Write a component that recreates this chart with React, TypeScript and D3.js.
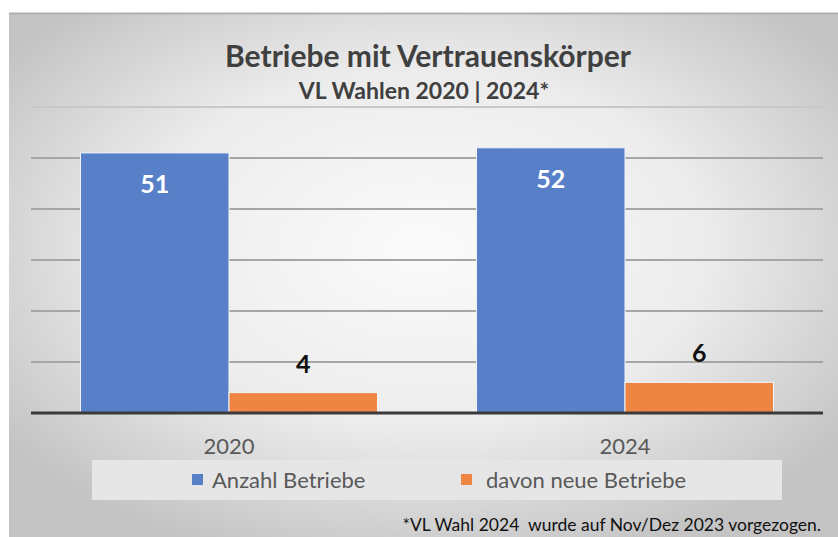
import React, { useEffect, useRef } from 'react';
import * as d3 from 'd3';

const YEARS = ["2020", "2024"];
const SERIES = ["Anzahl Betriebe", "davon neue Betriebe"];
const ANZAHL = [51, 52];
const NEUE = [4, 6];
const COLORS = ["#5880c8", "#ee8543"];
const Y_TICKS = [0, 10, 20, 30, 40, 50, 60];

const FONT = "Lato, 'Open Sans', sans-serif";

function App() {
    const svgRef = useRef<SVGSVGElement>(null);
    const W = 838;
    const H = 537;
    const plot = { left: 31, right: 823, top: 107, bottom: 413 };

    useEffect(() => {
        const svg = d3.select(svgRef.current);
        svg.selectAll("*").remove();

        const defs = svg.append("defs");
        const grad = defs.append("radialGradient")
            .attr("id", "bg")
            .attr("cx", "50%").attr("cy", "45%").attr("r", "62%");
        grad.append("stop").attr("offset", "0%").attr("stop-color", "#fbfbfb");
        grad.append("stop").attr("offset", "55%").attr("stop-color", "#ececec");
        grad.append("stop").attr("offset", "100%").attr("stop-color", "#c4c4c4");

        // chart area
        svg.append("rect")
            .attr("x", 9).attr("y", 13)
            .attr("width", W - 9).attr("height", H - 13)
            .attr("fill", "url(#bg)");
        svg.append("line")
            .attr("x1", 9).attr("x2", W).attr("y1", 13.5).attr("y2", 13.5)
            .attr("stroke", "#b0b0b0").attr("stroke-width", 2);

        const data = YEARS.map((y, i) => ({ year: y, values: [ANZAHL[i], NEUE[i]] }));

        const x0 = d3.scaleBand()
            .domain(YEARS)
            .range([plot.left, plot.right])
            .paddingInner(0.25)
            .paddingOuter(0.125);

        const x1 = d3.scaleBand()
            .domain(SERIES)
            .range([0, x0.bandwidth()]);

        const y = d3.scaleLinear()
            .domain([0, 60])
            .range([plot.bottom, plot.top]);

        // gridlines
        svg.append("g")
            .selectAll("line")
            .data(Y_TICKS.filter(t => t > 0))
            .join("line")
            .attr("x1", plot.left).attr("x2", plot.right)
            .attr("y1", d => y(d)).attr("y2", d => y(d))
            .attr("stroke", d => d === 60 ? "#c8c8c8" : "#a6a6a6")
            .attr("stroke-width", 2);

        // bars
        const groups = svg.append("g")
            .selectAll("g")
            .data(data)
            .join("g")
            .attr("transform", d => `translate(${x0(d.year)},0)`);

        groups.selectAll("rect")
            .data(d => d.values.map((v, i) => ({ key: SERIES[i], value: v, i })))
            .join("rect")
            .attr("x", d => x1(d.key)!)
            .attr("y", d => y(d.value))
            .attr("width", x1.bandwidth())
            .attr("height", d => y(0) - y(d.value))
            .attr("fill", d => COLORS[d.i])
            .attr("stroke", "#f2f4f8")
            .attr("stroke-width", 1);

        groups.selectAll("text")
            .data(d => d.values.map((v, i) => ({ key: SERIES[i], value: v, i })))
            .join("text")
            .attr("x", d => x1(d.key)! + x1.bandwidth() / 2)
            .attr("y", d => d.i === 0 ? y(d.value) + 40 : y(d.value) - 20)
            .attr("text-anchor", "middle")
            .attr("font-family", FONT)
            .attr("font-weight", "bold")
            .attr("font-size", 25)
            .attr("fill", d => d.i === 0 ? "#ffffff" : "#111111")
            .text(d => d.value);

        // x axis line
        svg.append("line")
            .attr("x1", plot.left).attr("x2", plot.right)
            .attr("y1", plot.bottom).attr("y2", plot.bottom)
            .attr("stroke", "#3a3a3a").attr("stroke-width", 3);

        // x axis labels
        svg.append("g")
            .selectAll("text")
            .data(YEARS)
            .join("text")
            .attr("x", d => x0(d)! + x0.bandwidth() / 2)
            .attr("y", 454)
            .attr("text-anchor", "middle")
            .attr("font-family", FONT)
            .attr("font-size", 22)
            .attr("fill", "#595959")
            .text(d => d);

        // title
        svg.append("text")
            .attr("x", 428).attr("y", 67)
            .attr("text-anchor", "middle")
            .attr("font-family", FONT)
            .attr("font-weight", "bold")
            .attr("font-size", 30)
            .attr("fill", "#404040")
            .text("Betriebe mit Vertrauenskörper");
        svg.append("text")
            .attr("x", 424).attr("y", 99)
            .attr("text-anchor", "middle")
            .attr("font-family", FONT)
            .attr("font-weight", "bold")
            .attr("font-size", 23)
            .attr("fill", "#404040")
            .text("VL Wahlen 2020 | 2024*");

        // legend
        svg.append("rect")
            .attr("x", 92).attr("y", 460)
            .attr("width", 690).attr("height", 40)
            .attr("fill", "#e6e6e6");

        const legendX = [192, 461];
        const legend = svg.append("g")
            .selectAll("g")
            .data(SERIES)
            .join("g")
            .attr("transform", (d, i) => `translate(${legendX[i]},474)`);
        legend.append("rect")
            .attr("width", 11).attr("height", 11)
            .attr("fill", (d, i) => COLORS[i]);
        legend.append("text")
            .attr("x", (d, i) => i === 0 ? 20 : 25)
            .attr("y", 14)
            .attr("font-family", FONT)
            .attr("font-size", 22)
            .attr("fill", "#595959")
            .text(d => d);

        // footnote
        svg.append("text")
            .attr("x", 821).attr("y", 531)
            .attr("text-anchor", "end")
            .attr("font-family", FONT)
            .attr("font-size", 17.5)
            .attr("fill", "#111111")
            .text("*VL Wahl 2024  wurde auf Nov/Dez 2023 vorgezogen.")
            .style("white-space", "pre");
    }, []);

    return (
        <svg
            ref={svgRef}
            width={W}
            height={H}
            style={{ position: "absolute", left: 0, top: 0, display: "block" }}
        />
    );
}

export default App;
